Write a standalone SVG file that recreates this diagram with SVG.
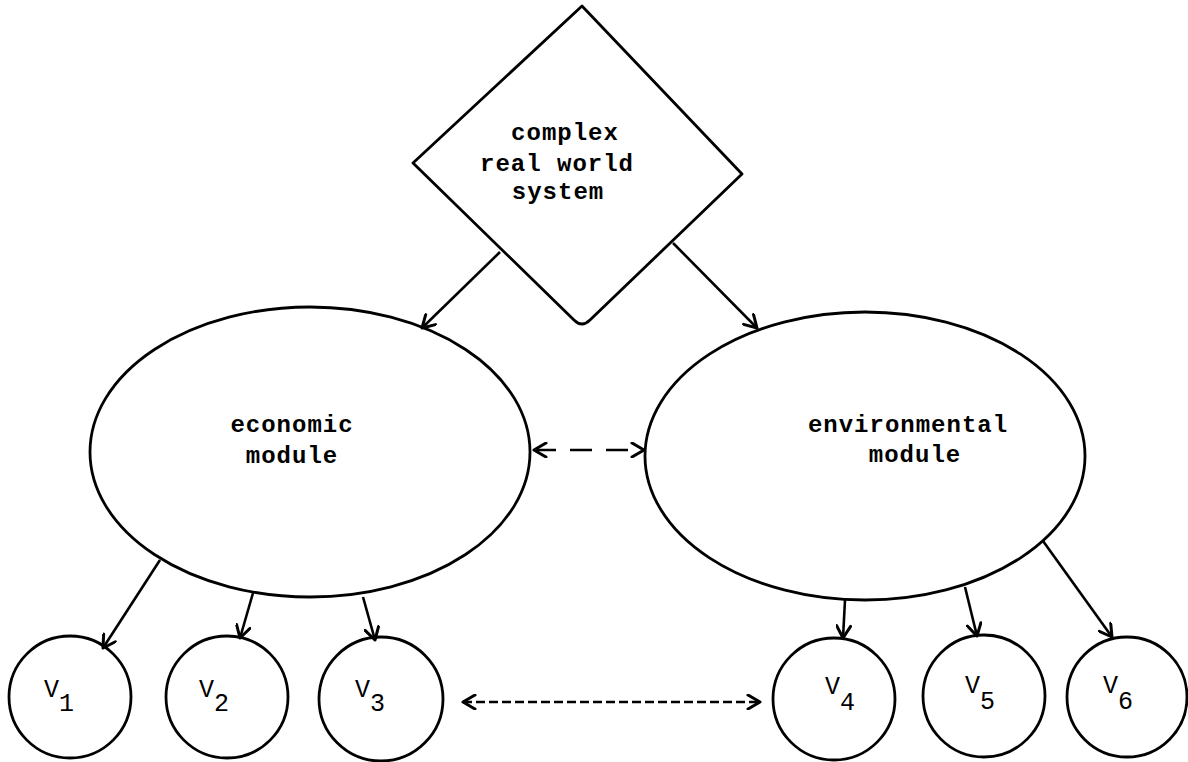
<svg xmlns="http://www.w3.org/2000/svg" width="1188" height="762" viewBox="0 0 1188 762">
<style>
.shape{fill:none;stroke:#000;stroke-width:2.8;stroke-linejoin:round}
.conn{fill:none;stroke:#000;stroke-width:2.6}
.lbl{font-family:"Liberation Mono","DejaVu Sans Mono",monospace;font-size:24px;font-weight:bold;fill:#000;text-anchor:middle;letter-spacing:1px}
.v{font-family:"Liberation Mono","DejaVu Sans Mono",monospace;font-size:25px;fill:#000}
</style>
<defs>
<marker id="ah" markerUnits="userSpaceOnUse" markerWidth="16" markerHeight="16" viewBox="0 0 16 16" refX="14" refY="8" orient="auto-start-reverse">
<path d="M2,1 L14,8 L2,15" fill="none" stroke="#000" stroke-width="3" stroke-linecap="round" stroke-linejoin="round"/>
</marker>
</defs>
<rect width="1188" height="762" fill="#fff"/>
<g id="system">
<path class="shape" d="M582,6 L742,174 L590,320 Q582,328 574,320 L413,163 Z"/>
<text class="lbl" x="565" y="140">complex</text>
<text class="lbl" x="557" y="171">real world</text>
<text class="lbl" x="558" y="199">system</text>
</g>
<g id="economic">
<ellipse class="shape" cx="310" cy="452" rx="220" ry="145"/>
<text class="lbl" x="292" y="432">economic</text>
<text class="lbl" x="292" y="463">module</text>
</g>
<g id="environmental">
<ellipse class="shape" cx="865" cy="456" rx="220" ry="144"/>
<text class="lbl" x="908" y="432">environmental</text>
<text class="lbl" x="915" y="462">module</text>
</g>
<g id="v1"><circle class="shape" cx="70" cy="697" r="61"/><text class="v" x="44" y="697">V<tspan dy="14">1</tspan></text></g>
<g id="v2"><circle class="shape" cx="227" cy="697" r="61"/><text class="v" x="199" y="697">V<tspan dy="14">2</tspan></text></g>
<g id="v3"><circle class="shape" cx="381" cy="699" r="62"/><text class="v" x="355" y="697">V<tspan dy="14">3</tspan></text></g>
<g id="v4"><circle class="shape" cx="834" cy="699" r="61"/><text class="v" x="825" y="694">V<tspan dy="16">4</tspan></text></g>
<g id="v5"><circle class="shape" cx="984" cy="696" r="61"/><text class="v" x="965" y="693">V<tspan dy="16">5</tspan></text></g>
<g id="v6"><circle class="shape" cx="1127" cy="697" r="60"/><text class="v" x="1103" y="693">V<tspan dy="16">6</tspan></text></g>
<g id="connectors">
<line class="conn" x1="500" y1="252" x2="422" y2="328" marker-end="url(#ah)"/>
<line class="conn" x1="673" y1="243" x2="757" y2="328" marker-end="url(#ah)"/>
<line class="conn" x1="534" y1="450" x2="644" y2="450" stroke-width="4" stroke-dasharray="22 14" marker-start="url(#ah)" marker-end="url(#ah)"/>
<line class="conn" x1="160" y1="560" x2="103" y2="648" marker-end="url(#ah)"/>
<line class="conn" x1="253" y1="593" x2="240" y2="638" marker-end="url(#ah)"/>
<line class="conn" x1="363" y1="597" x2="375" y2="640" marker-end="url(#ah)"/>
<line class="conn" x1="845" y1="600" x2="843" y2="638" marker-end="url(#ah)"/>
<line class="conn" x1="965" y1="587" x2="977" y2="636" marker-end="url(#ah)"/>
<line class="conn" x1="1043" y1="541" x2="1112" y2="637" marker-end="url(#ah)"/>
<line class="conn" x1="463" y1="702" x2="760" y2="702" stroke-width="3" stroke-dasharray="9 4" marker-start="url(#ah)" marker-end="url(#ah)"/>
</g>
</svg>
